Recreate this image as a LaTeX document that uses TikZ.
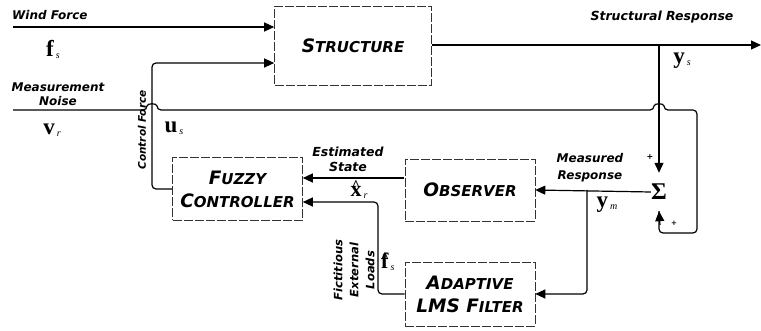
\documentclass[tikz,border=0pt]{standalone}
\usepackage{fontspec}
\usepackage{amsmath, amssymb}
\usepackage{tikz}
\usetikzlibrary{arrows.meta}
\usetikzlibrary{calc}
\newfontfamily\labfont{DejaVu Sans}
\newfontfamily\tmsfont{Liberation Serif}
% 方框里的小型大写字母:首字母大,其余小
\newcommand{\capword}[2]{{\fontsize{18.5}{20}\selectfont #1}{\fontsize{15}{16}\selectfont #2}}
% 粗体向量加小下标
\newcommand{\vlab}[2]{{\tmsfont\bfseries\fontsize{23}{23}\selectfont #1}\kern2pt\raisebox{-2pt}{\tmsfont\itshape\fontsize{10}{10}\selectfont #2}}
% 带尖帽的向量
\newcommand{\vhat}[2]{{\tmsfont\bfseries\fontsize{22}{22}\selectfont\ooalign{#1\cr\hidewidth\raisebox{6pt}{\fontsize{15}{15}\selectfont\^{}}\hidewidth\cr}}\kern2pt\raisebox{-2pt}{\tmsfont\itshape\fontsize{10}{10}\selectfont #2}}

\begin{document}
\begin{tikzpicture}[x=1pt, y=-1pt]
        % 定义样式:虚线方框、粗箭头、斜体标签
        \tikzstyle{block}=[draw=black!80, line width=0.6pt, dash pattern=on 9pt off 2pt, minimum width=130pt, minimum height=62pt, align=center, font=\labfont\bfseries\itshape\fontsize{15}{23}\selectfont]
        \tikzstyle{arr}=[line width=1.2pt, -{Triangle[length=10pt,width=9pt]}]
        \tikzstyle{wire}=[line width=1.2pt]
        \tikzstyle{lab}=[font=\labfont\bfseries\itshape\fontsize{12}{15}\selectfont, align=center, inner sep=0pt]

        \useasboundingbox (0,0) rectangle (761,331);

        % 四个方框
        \node[block, minimum width=157pt, minimum height=79pt] (struct) at (353,45.5) {\capword{S}{TRUCTURE}};
        \node[block, minimum height=63pt] (fuzzy) at (237.5,189) {\capword{F}{UZZY}\\\capword{C}{ONTROLLER}};
        \node[block] (obs) at (470,190) {\capword{O}{BSERVER}};
        \node[block, minimum height=64pt] (adapt) at (470,294) {\capword{A}{DAPTIVE}\\\capword{LMS F}{ILTER}};

        % 求和点
        \node[minimum height=38pt, inner sep=0pt] (sum) at (659,192) {\tmsfont\bfseries\fontsize{24}{24}\selectfont Σ};

        % 端点和拐点
        \coordinate (wind) at (13,27);
        \coordinate (noise) at (13,110);
        \coordinate (cf) at (152,63);
        \coordinate (out) at (761,45);
        \coordinate (br) at (659,45);
        \coordinate (nr) at (697,110);
        \coordinate (nb) at (697,233);
        \coordinate (mr) at (587,190);
        \coordinate (fl) at (378,202);
        \coordinate (es) at (404,178);

        % 外力和控制力
        \draw[arr] (wind) -- (wind -| struct.west);
        \draw[arr, rounded corners=4pt] (fuzzy.west) -| (cf) -- (cf -| struct.west);
        \draw[arr] (struct.east |- out) -- (out);
        \draw[arr] (br) -- (sum.north);

        % 测量噪声:跨线处画小弧
        \draw[wire, rounded corners=4pt] (noise) -- (147,110) .. controls (147,103) and (157,103) .. (157,110)
            -- (654,110) .. controls (654,103) and (664,103) .. (664,110)
            -- (nr) -- (nb) -- (nb -| sum) -- (sum.south);
        \draw[arr] (660,225) -- (sum.south);

        % 观测器与滤波器
        \draw[arr] (sum.west) -- (obs.east);
        \draw[arr, rounded corners=4pt] (mr) |- (adapt.east);
        \draw[arr] (es) -- (es -| fuzzy.east);
        \draw[arr, rounded corners=4pt] (adapt.west) -| (fl) -- (fl -| fuzzy.east);

        % 文字标签
        \node[lab, anchor=west] (lwind) at (12,15) {Wind Force};
        \node (lfs) at (53,49) {\vlab{f}{s}};
        \node[lab, font=\labfont\bfseries\itshape\fontsize{12}{13.5}\selectfont] (lnoise) at (58,94) {Measurement\\Noise};
        \node (lvr) at (52,130) {\vlab{v}{r}};
        \node (lus) at (174,128) {\vlab{u}{s}};
        \node[lab, font=\labfont\bfseries\itshape\fontsize{10.5}{12}\selectfont, rotate=90] (lcf) at (142,130) {Control Force};
        \node[lab, font=\labfont\bfseries\itshape\fontsize{12.5}{14}\selectfont] (lsr) at (662,17) {Structural Response};
        \node (lys) at (682,61) {\vlab{y}{s}};
        \node[lab, font=\labfont\bfseries\fontsize{8}{8}\selectfont] (lp1) at (650,157) {+};
        \node[lab, font=\labfont\bfseries\fontsize{7}{8}\selectfont] (lp2) at (674,223) {+};
        \node[lab, font=\labfont\bfseries\itshape\fontsize{12.5}{15}\selectfont] (lest) at (348,159) {Estimated\\State};
        \node (lxr) at (359,192) {\vhat{x}{r}};
        \node[lab, font=\labfont\bfseries\itshape\fontsize{12}{17}\selectfont] (lmr) at (590,168) {Measured\\Response};
        \node (lym) at (607,205) {\vlab{y}{m}};
        \node[lab, font=\labfont\bfseries\itshape\fontsize{11.5}{16}\selectfont, rotate=90] (lfel) at (354,270) {Fictitious\\External\\Loads};
        \node[anchor=west, inner sep=0pt] (lfh) at (381,262) {\vhat{f}{s}};
    \end{tikzpicture}
\end{document}
